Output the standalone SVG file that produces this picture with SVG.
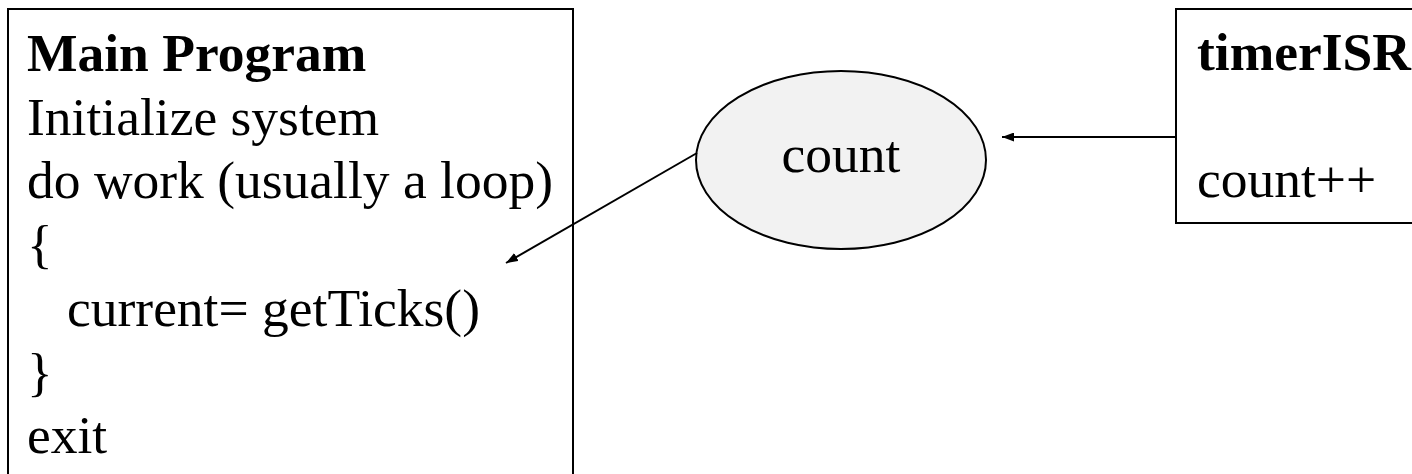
<svg xmlns="http://www.w3.org/2000/svg" width="1412" height="474" viewBox="0 0 1412 474">
  <style>
    .box { fill: #ffffff; stroke: #000000; stroke-width: 2; }
    .oval { fill: #f2f2f2; stroke: #000000; stroke-width: 2; }
    .txt { font-family: "Liberation Serif", "Times New Roman", serif; font-size: 53.5px; fill: #000000; }
    .bold { font-weight: bold; }
    .wire { fill: none; stroke: #000000; stroke-width: 2; }
  </style>
  <defs>
    <marker id="arrow" viewBox="0 0 12 9" refX="12" refY="4.5" markerWidth="12" markerHeight="9" markerUnits="userSpaceOnUse" orient="auto">
      <path d="M0,0 L12,4.5 L0,9 z" fill="#000000"/>
    </marker>
  </defs>
  <rect width="1412" height="474" fill="#ffffff"/>

  <g id="main-program">
    <rect class="box" x="8" y="9" width="565" height="480"/>
    <text class="txt bold" x="27" y="71">Main Program</text>
    <text class="txt" x="27" y="135">Initialize system</text>
    <text class="txt" x="27" y="198">do work (usually a loop)</text>
    <text class="txt" x="27" y="262">{</text>
    <text class="txt" x="67" y="326">current= getTicks()</text>
    <text class="txt" x="27" y="390">}</text>
    <text class="txt" x="27" y="453">exit</text>
  </g>

  <g id="count">
    <ellipse class="oval" cx="841" cy="160" rx="145" ry="89"/>
    <text class="txt" x="841" y="172" text-anchor="middle">count</text>
  </g>

  <g id="timer-isr">
    <rect class="box" x="1176" y="9" width="250" height="214"/>
    <text class="txt bold" x="1197" y="70">timerISR</text>
    <text class="txt" x="1197" y="197">count++</text>
  </g>

  <g id="connectors">
    <line class="wire" x1="1176" y1="137" x2="1002" y2="137" marker-end="url(#arrow)"/>
    <line class="wire" x1="697" y1="153" x2="506" y2="263" marker-end="url(#arrow)"/>
  </g>
</svg>
